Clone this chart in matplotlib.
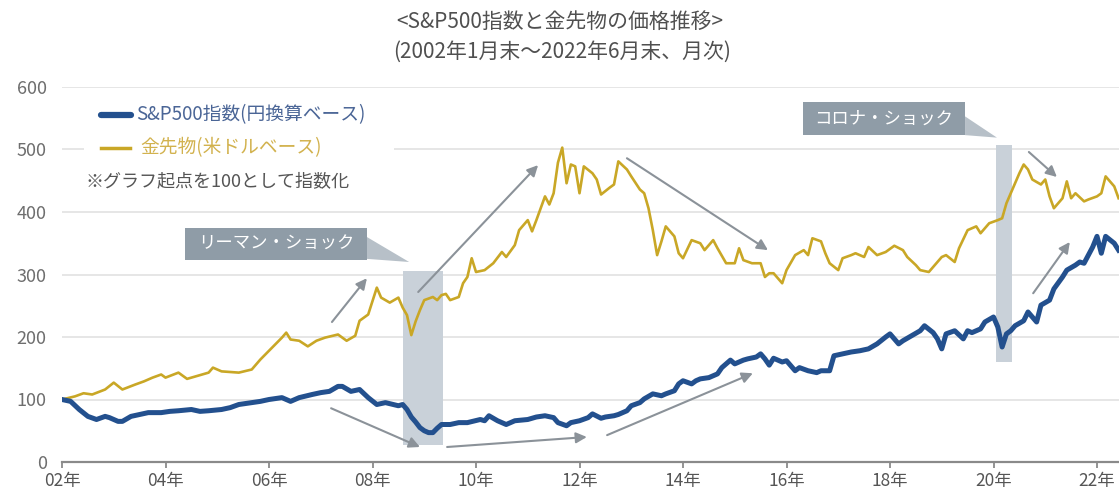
import matplotlib
matplotlib.use("Agg")
import matplotlib.pyplot as plt
from matplotlib.patches import Rectangle, Polygon
from matplotlib.lines import Line2D

plt.rcParams['font.family'] = ['Noto Sans CJK JP', 'DejaVu Sans']

# ---- data (month offset from 2002-01, index value; start = 100) ----
sp_months = [0, 2, 4, 6, 8, 10, 11, 13, 14, 16, 18, 20, 23, 25, 27, 30, 32, 34, 37, 39,
             41, 44, 46, 48, 51, 53, 55, 58, 60, 62, 64, 65, 67, 69, 71, 73, 75, 78, 79, 80,
             81, 82, 83, 84, 85, 86, 87, 88, 90, 92, 94, 97, 98, 99, 101, 103, 105, 108, 110, 112,
             114, 115, 117, 118, 120, 122, 123, 125, 126, 128, 129, 131, 132, 134, 135, 137, 139, 140, 142, 143,
             144, 146, 147, 148, 150, 152, 153, 155, 156, 158, 159, 161, 162, 163, 164, 165, 167, 168, 170, 171,
             173, 175, 176, 178, 179, 181, 183, 185, 187, 189, 191, 192, 194, 195, 197, 199, 200, 202, 203, 204,
             205, 207, 209, 210, 211, 213, 214, 216, 217, 218, 219, 220, 221, 223, 224, 225, 226, 227, 229, 230,
             232, 233, 235, 236, 237, 239, 240, 241, 242, 244, 245]
sp_values = [100, 97, 84, 73, 68, 73, 71, 65, 65, 73, 76, 79, 79, 81, 82, 84, 81, 82, 84, 87,
             92, 95, 97, 100, 103, 97, 103, 108, 111, 113, 121, 121, 113, 116, 103, 92, 95, 90, 92, 84,
             72, 64, 55, 50, 47, 47, 54, 60, 60, 63, 63, 68, 66, 74, 66, 60, 66, 68, 72, 74,
             71, 63, 58, 63, 66, 71, 77, 70, 72, 74, 76, 82, 90, 95, 101, 109, 106, 109, 114, 125,
             130, 125, 130, 133, 135, 141, 151, 163, 157, 163, 165, 168, 173, 165, 155, 166, 160, 162, 146, 151,
             146, 143, 146, 146, 170, 173, 176, 178, 181, 189, 200, 205, 189, 194, 202, 210, 218, 207, 197, 181,
             205, 210, 197, 210, 207, 213, 224, 232, 216, 184, 205, 210, 218, 226, 240, 232, 224, 251, 259, 277,
             296, 307, 315, 320, 318, 344, 361, 334, 361, 350, 339]

gold_months = [0, 3, 5, 7, 10, 12, 14, 17, 19, 21, 23, 24, 27, 29, 31, 34, 35, 37, 39, 41,
               44, 46, 48, 51, 52, 53, 55, 57, 59, 61, 64, 66, 68, 69, 71, 73, 74, 76, 78, 79,
               80, 81, 82, 83, 84, 86, 87, 88, 89, 90, 92, 93, 94, 95, 96, 98, 100, 102, 103, 105,
               106, 108, 109, 110, 112, 113, 114, 115, 116, 117, 118, 119, 120, 121, 123, 124, 125, 127, 128, 129,
               131, 132, 134, 135, 136, 137, 138, 139, 140, 142, 143, 144, 146, 148, 149, 151, 152, 154, 156, 157,
               158, 160, 162, 163, 164, 165, 167, 168, 170, 172, 173, 174, 176, 177, 178, 180, 181, 183, 184, 186,
               187, 189, 191, 193, 195, 196, 198, 199, 201, 202, 204, 205, 207, 208, 210, 212, 213, 214, 215, 217,
               218, 219, 220, 222, 223, 224, 225, 227, 228, 229, 230, 232, 233, 234, 235, 237, 238, 240, 241, 242,
               244, 245]
gold_values = [100, 105, 110, 108, 116, 127, 116, 124, 129, 135, 140, 135, 143, 133, 137, 143, 151, 145, 144, 143,
               148, 164, 178, 199, 207, 196, 194, 185, 194, 199, 204, 194, 202, 226, 236, 279, 263, 255, 263, 247,
               235, 203, 225, 243, 259, 264, 259, 267, 269, 259, 264, 286, 296, 326, 304, 307, 318, 336, 328, 347,
               371, 387, 369, 387, 425, 412, 430, 479, 503, 446, 476, 473, 430, 473, 462, 452, 428, 439, 444, 481,
               468, 457, 436, 430, 406, 371, 331, 353, 377, 361, 334, 326, 355, 350, 339, 355, 342, 318, 318, 342,
               323, 318, 318, 296, 302, 302, 286, 307, 331, 339, 331, 358, 353, 334, 318, 307, 326, 331, 334, 328,
               344, 331, 336, 346, 339, 328, 315, 307, 304, 312, 328, 331, 320, 342, 371, 377, 366, 374, 382, 387,
               390, 414, 430, 462, 476, 468, 452, 444, 452, 425, 406, 422, 449, 422, 430, 417, 420, 425, 430, 457,
               441, 422]

tick_months = list(range(0, 241, 24))
tick_labels = [f"{(2002 + m // 12) % 100:02d}年" for m in tick_months]
y_ticks = [0, 100, 200, 300, 400, 500, 600]

title1 = "<S&P500指数と金先物の価格推移>"
title2 = "(2002年1月末～2022年6月末、月次)"
sp_label = "S&P500指数(円換算ベース)"
gold_label = "金先物(米ドルベース)"
note = "※グラフ起点を100として指数化"

# shock periods (month range, value range) and callouts
lehman_span = (79.1, 88.3, 27, 305)
corona_span = (216.6, 220.3, 160, 507)
lehman_box = (28.5, 70.7, 323, 374, "リーマン・ショック")
corona_box = (171.8, 209.4, 523, 576, "コロナ・ショック")
lehman_tail = [(70.7, 360), (70.7, 325), (80.5, 320)]
corona_tail = [(209.4, 553), (209.4, 523), (216.8, 519)]
arrows = [((62.6, 224), (70.7, 294)),
          ((82.6, 272), (110.4, 475)),
          ((131.0, 486), (163.7, 339)),
          ((224.2, 496), (230.7, 456)),
          ((62.4, 86), (83.0, 24)),
          ((89.3, 24), (121.7, 40)),
          ((126.4, 43), (160.2, 142)),
          ((225.2, 270), (233.7, 352))]

BLUE = '#23508e'
GOLD = '#c9a726'
W, H = 1119, 492

fig = plt.figure(figsize=(W / 100, H / 100), dpi=100)
ax = fig.add_axes([62 / W, 30 / H, (W - 62) / W, 375 / H])
ax.set_xlim(0, 245.1)
ax.set_ylim(0, 600)

for s in ['top', 'right', 'left']:
    ax.spines[s].set_visible(False)
ax.spines['bottom'].set_color('#8a8a8a')
ax.spines['bottom'].set_linewidth(1.6)
ax.spines['bottom'].set_zorder(5)

ax.set_yticks(y_ticks)
ax.yaxis.grid(True, color='#e2e2e2', lw=1.2)
ax.set_axisbelow(True)
ax.tick_params(axis='y', length=0, pad=11, labelsize=13, labelcolor='#6e6e6e')
ax.set_xticks(tick_months)
ax.set_xticklabels(tick_labels)
ax.tick_params(axis='x', direction='out', length=4, width=1.3, color='#8a8a8a',
               pad=3, labelsize=12.5, labelcolor='#555555')

# shaded shock periods
for x0, x1, y0, y1 in [lehman_span, corona_span]:
    ax.add_patch(Rectangle((x0, y0), x1 - x0, y1 - y0, facecolor='#c9d1d9',
                           edgecolor='none', zorder=1))

ax.plot(gold_months, gold_values, color=GOLD, lw=1.9, zorder=3, solid_joinstyle='round')
ax.plot(sp_months, sp_values, color=BLUE, lw=3.6, zorder=4, solid_joinstyle='round')

# callouts
for (x0, x1, y0, y1, txt), tail in [(lehman_box, lehman_tail), (corona_box, corona_tail)]:
    ax.add_patch(Polygon(tail, closed=True, facecolor='#b7c0c8', edgecolor='none', zorder=5))
    ax.add_patch(Rectangle((x0, y0), x1 - x0, y1 - y0, facecolor='#8f9ca7',
                           edgecolor='none', zorder=6))
    ax.text((x0 + x1) / 2, (y0 + y1) / 2, txt, color='white', fontsize=12.5,
            ha='center', va='center', zorder=7)

for (xs, ys), (xe, ye) in arrows:
    ax.annotate('', xy=(xe, ye), xytext=(xs, ys),
                arrowprops=dict(arrowstyle='-|>', color='#8b9299', lw=1.5,
                                mutation_scale=16, shrinkA=0, shrinkB=0),
                zorder=6)

# titles
def fpx(x, y):
    return x / W, 1 - y / H

fig.text(*fpx(560, 22), title1, ha='center', va='center', fontsize=15, color='#505050')
fig.text(*fpx(562, 52), title2, ha='center', va='center', fontsize=15, color='#505050')

# legend block
fig.add_artist(Rectangle(fpx(84, 200), 310 / W, 100 / H, transform=fig.transFigure,
                         facecolor='white', edgecolor='none', zorder=1))
x0, y0 = fpx(101, 115); x1, _ = fpx(131, 115)
fig.add_artist(Line2D([x0, x1], [y0, y0], color=BLUE, lw=4.5, solid_capstyle='round', zorder=2))
fig.text(*fpx(136, 115), sp_label, ha='left', va='center', fontsize=13.5, color='#4a6596', zorder=3)
x0, y0 = fpx(101, 148); x1, _ = fpx(130, 148)
fig.add_artist(Line2D([x0, x1], [y0, y0], color=GOLD, lw=2.5, zorder=2))
fig.text(*fpx(140, 148), gold_label, ha='left', va='center', fontsize=13.5, color='#d2b24e', zorder=3)
fig.text(*fpx(85, 181), note, ha='left', va='center', fontsize=13, color='#555555', zorder=3)

fig.savefig('out.png', dpi=100)
